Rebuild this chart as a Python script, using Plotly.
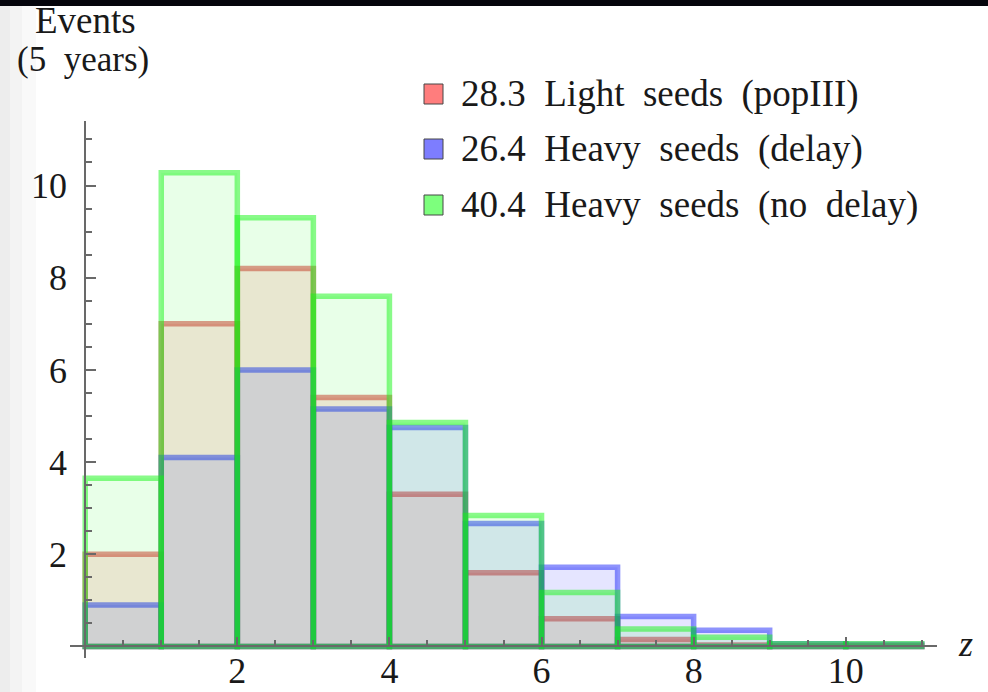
import numpy as np
import plotly.graph_objects as go

# ---- data ----
bin_left = [0, 1, 2, 3, 4, 5, 6, 7, 8, 9, 10]
light_popIII = [2.0, 7.0, 8.2, 5.4, 3.3, 1.6, 0.6, 0.15, 0.03, 0.02, 0.02]
heavy_delay = [0.9, 4.1, 6.0, 5.15, 4.75, 2.67, 1.72, 0.65, 0.35, 0.06, 0.05]
heavy_nodelay = [3.65, 10.28, 9.3, 7.6, 4.86, 2.84, 1.17, 0.38, 0.2, 0.06, 0.06]
legend_labels = ["28.3  Light  seeds  (popIII)",
                 "26.4  Heavy  seeds  (delay)",
                 "40.4  Heavy  seeds  (no  delay)"]
x_ticks = [2, 4, 6, 8, 10]
y_ticks = [2, 4, 6, 8, 10]

series = [
    (light_popIII, "rgba(255,0,0,0.10)", "rgba(215,40,40,0.5)", "rgb(255,125,125)"),
    (heavy_delay, "rgba(0,0,255,0.10)", "rgba(30,40,250,0.5)", "rgb(125,125,255)"),
    (heavy_nodelay, "rgba(0,255,0,0.09)", "rgba(20,245,20,0.5)", "rgb(125,255,125)"),
]

XR = [-0.2, 11.2]
YR = [-0.25, 11.4]
FONT = "Liberation Serif"
TXT = "rgb(25,25,25)"
AX = "rgb(105,105,105)"

fig = go.Figure()
for (vals, fill, edge, _), name in zip(series, legend_labels):
    fig.add_trace(go.Bar(
        x=bin_left, y=vals, width=1, offset=0,
        marker=dict(color=fill, line=dict(color=edge, width=5.5)),
        name=name, showlegend=False, hoverinfo="skip",
    ))

W, H = 988, 692
L, R, T, B = 70, 51, 121, 34
pw, ph = W - L - R, H - T - B

def px2paper_x(px):
    return (px - L) / pw

def px2paper_y(py):
    return (H - B - py) / ph

def nb(s):
    return s.replace(" ", "\u00a0")

shapes = []
annotations = []

# faint shading at the left edge
for wpx in (10, 22, 36):
    shapes.append(dict(type="rect", xref="paper", yref="paper",
                       x0=px2paper_x(0), x1=px2paper_x(wpx),
                       y0=px2paper_y(H + 5), y1=px2paper_y(-5),
                       fillcolor="rgba(0,0,0,0.022)", line=dict(width=0), layer="below"))

# legend (custom)
row_y = [94, 149, 205]
for (vals, fill, edge, box), lab, ry in zip(series, legend_labels, row_y):
    shapes.append(dict(type="rect", xref="paper", yref="paper",
                       x0=px2paper_x(424), x1=px2paper_x(443),
                       y0=px2paper_y(ry + 10), y1=px2paper_y(ry - 10),
                       fillcolor=box, line=dict(color="rgb(70,70,70)", width=1)))
    annotations.append(dict(xref="paper", yref="paper", x=px2paper_x(459),
                            y=px2paper_y(ry), xanchor="left", yanchor="middle",
                            text=nb(lab), showarrow=False,
                            font=dict(family=FONT, size=37, color=TXT)))

# black band at top
shapes.append(dict(type="rect", xref="paper", yref="paper",
                   x0=-0.2, x1=1.2, y0=px2paper_y(6), y1=px2paper_y(-5),
                   fillcolor="rgb(5,5,12)", line=dict(width=0), layer="above"))

annotations.append(dict(xref="paper", yref="paper", x=px2paper_x(85), y=px2paper_y(21),
                        text="Events", showarrow=False, xanchor="center", yanchor="middle",
                        font=dict(family=FONT, size=37, color=TXT)))
annotations.append(dict(xref="paper", yref="paper", x=px2paper_x(83), y=px2paper_y(59),
                        text=nb("(5  years)"), showarrow=False, xanchor="center", yanchor="middle",
                        font=dict(family=FONT, size=35, color=TXT)))
annotations.append(dict(xref="paper", yref="paper", x=px2paper_x(965), y=px2paper_y(644),
                        text="<i>z</i>", showarrow=False, xanchor="center", yanchor="middle",
                        font=dict(family=FONT, size=36, color=TXT)))

minor_x = [v for v in np.arange(0.5, 11.01, 0.5) if v not in x_ticks]
minor_y = [v for v in np.arange(0.5, 11.01, 0.5) if v not in y_ticks]

fig.update_layout(
    width=W, height=H,
    margin=dict(l=L, r=R, t=T, b=B),
    paper_bgcolor="white", plot_bgcolor="white",
    barmode="overlay",
    shapes=shapes, annotations=annotations,
    xaxis=dict(range=XR, anchor="free", position=(0 - YR[0]) / (YR[1] - YR[0]),
               automargin=False,
               showline=True, linecolor=AX, linewidth=2, showgrid=False, zeroline=False,
               tickmode="array", tickvals=x_ticks, ticks="inside", ticklen=8,
               tickwidth=2, tickcolor=AX,
               minor=dict(tickmode="array", tickvals=minor_x, ticks="inside",
                          ticklen=5, tickwidth=1.5, tickcolor=AX, showgrid=False),
               tickfont=dict(family=FONT, size=36, color=TXT),
               ticklabelstandoff=-8),
    yaxis=dict(range=YR, anchor="free", position=(0 - XR[0]) / (XR[1] - XR[0]),
               automargin=False,
               showline=True, linecolor=AX, linewidth=2, showgrid=False, zeroline=False,
               tickmode="array", tickvals=y_ticks, ticks="inside", ticklen=10,
               tickwidth=2, tickcolor=AX,
               minor=dict(tickmode="array", tickvals=minor_y, ticks="inside",
                          ticklen=6, tickwidth=1.5, tickcolor=AX, showgrid=False),
               tickfont=dict(family=FONT, size=36, color=TXT),
               ticklabelstandoff=10),
)

fig.write_html("out.html")
